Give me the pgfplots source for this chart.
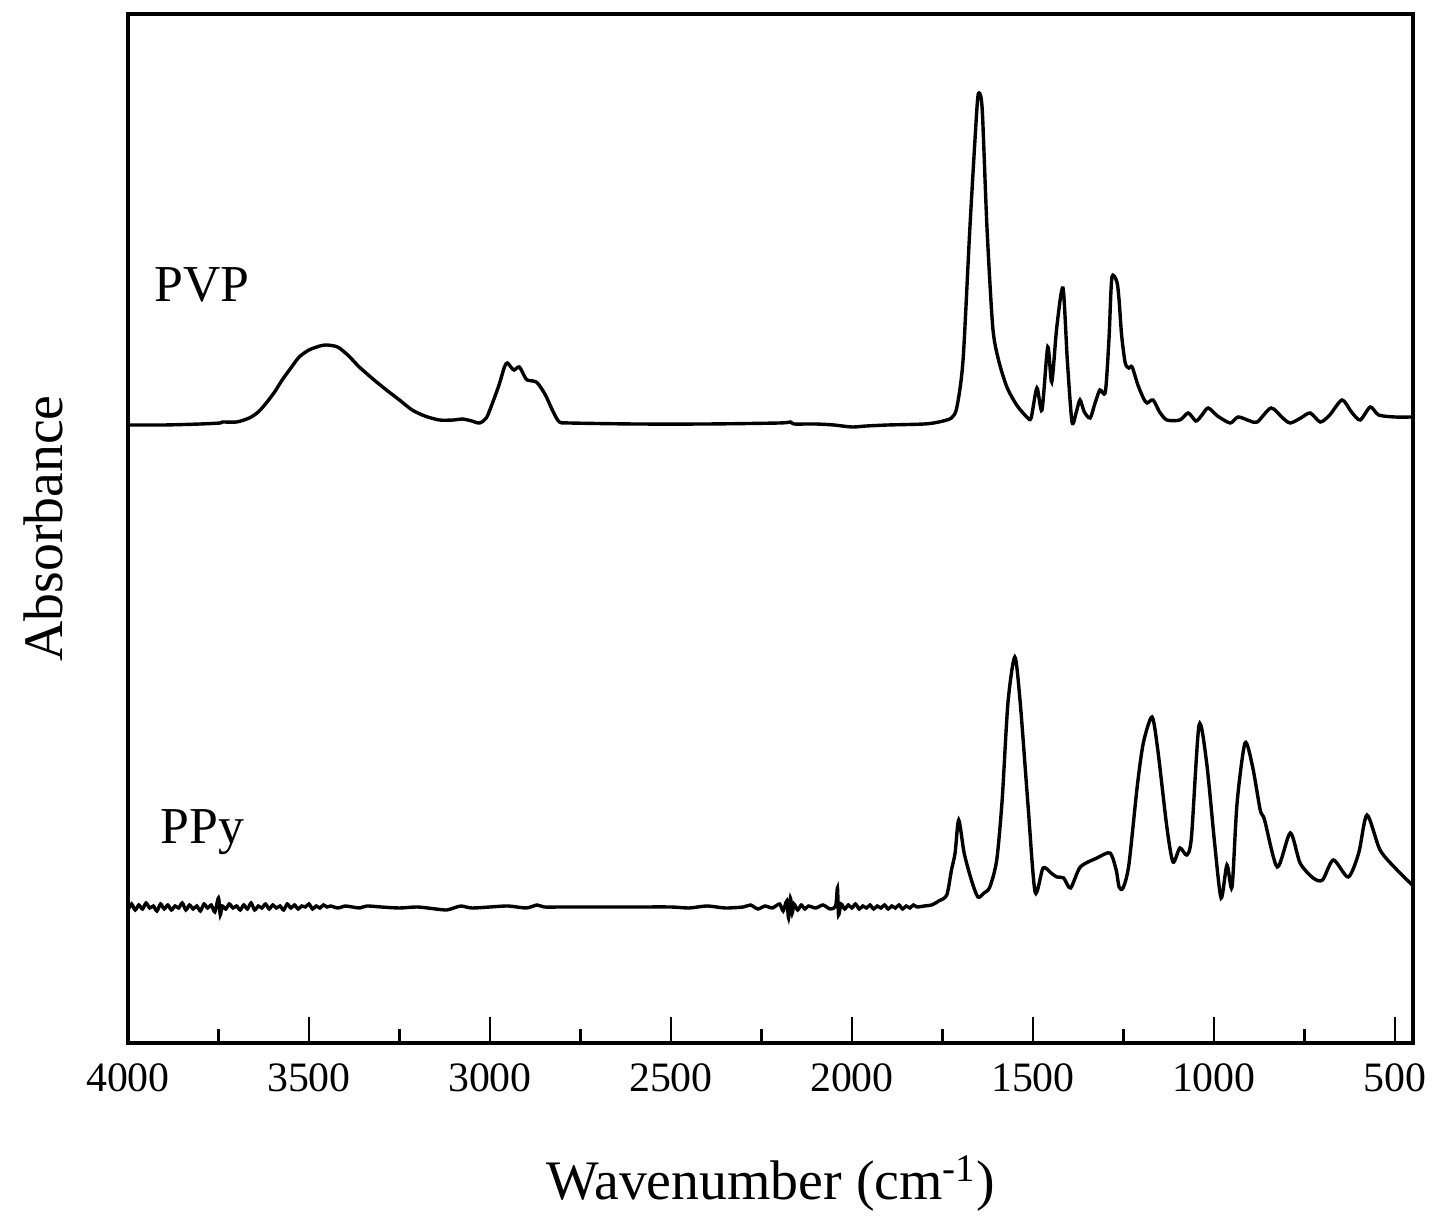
\documentclass[border=0pt]{standalone}
\usepackage{pgfplots}
\pgfplotsset{compat=1.18}
\usepackage{fontspec}
\setmainfont{Liberation Serif}
\begin{document}
\begin{tikzpicture}
\begin{axis}[
  scale only axis,
  width=642.5bp, height=514.5bp,
  x dir=reverse,
  xmin=450, xmax=4000, ymin=0, ymax=1029,
  axis line style={line width=1.8bp},
  xtick={500,1000,1500,2000,2500,3000,3500,4000},
  minor xtick={750,1250,1750,2250,2750,3250,3750},
  ytick=\empty,
  xtick pos=bottom,
  tick align=inside,
  major tick length=13bp, minor tick length=7bp,
  every tick/.style={black, line width=1.4bp},
  /pgf/number format/assume math mode=true,
  /pgf/number format/1000 sep={},
  xticklabel style={font=\fontsize{21}{25}\selectfont, yshift=-7bp},
  xlabel={Wavenumber (cm\textsuperscript{-1})},
  ylabel={Absorbance},
  xlabel style={font=\fontsize{28}{32}\selectfont, yshift=-25bp},
  ylabel style={font=\fontsize{28}{32}\selectfont, yshift=29bp},
  clip=true,
]
\addplot[black, line width=1.7bp, smooth, tension=0.45] coordinates {
(4000,618) (3900,618) (3800,619) (3745,620) (3740,621) (3700,621) (3665,625) (3640,631)
(3618,640) (3595,651) (3574,663) (3550,675) (3527,686) (3500,693) (3470,697) (3452,698)
(3430,697) (3416,695) (3390,687) (3361,676) (3320,663) (3286,653) (3250,643) (3215,633)
(3180,627) (3140,623) (3100,623) (3076,624) (3050,622) (3029,620) (3010,625) (2993,640)
(2975,658) (2960,676) (2952,680) (2940,675) (2933,673) (2919,676) (2905,667) (2897,663)
(2872,661) (2855,653) (2844,646) (2825,631) (2808,621) (2780,620) (2600,619) (2400,619)
(2200,620) (2170,621) (2160,619) (2100,619) (2050,618) (2000,616) (1960,617) (1900,618)
(1800,619) (1760,621) (1725,625) (1710,636) (1693,683) (1674,816) (1655,933) (1649,950)
(1640,933) (1627,816) (1611,716) (1595,683) (1572,656) (1545,638) (1517,626) (1505,625)
(1489,655) (1475,633) (1459,696) (1448,661) (1434,716) (1417,755) (1405,683) (1392,621)
(1380,631) (1370,643) (1358,631) (1342,625) (1330,638) (1315,653) (1300,651) (1290,703)
(1282,765) (1268,761) (1262,743) (1255,708) (1245,680) (1235,675) (1226,676) (1210,658)
(1195,645) (1185,640) (1168,643) (1150,631) (1130,623) (1094,623) (1071,630) (1050,622)
(1035,627) (1016,635) (990,627) (955,620) (933,626) (900,622) (880,621) (842,635)
(810,625) (789,620) (760,625) (734,630) (706,621) (680,628) (646,643) (620,631)
(596,623) (568,636) (545,628) (500,626) (450,626)
};
\addplot[black, line width=1.7bp, smooth, tension=0.45] coordinates {
(4000,168) (3999,136) (3990,139) (3980,133) (3970,138) (3960,134) (3950,140) (3940,135)
(3930,137) (3920,132) (3910,139) (3900,134) (3890,138) (3880,133) (3870,137) (3860,135)
(3850,140) (3840,133) (3830,138) (3820,134) (3810,137) (3800,132) (3790,139) (3780,135)
(3770,138) (3760,131) (3750,145) (3745,128) (3740,137) (3730,134) (3720,139) (3710,135)
(3700,137) (3690,133) (3680,138) (3670,134) (3660,140) (3650,133) (3640,137) (3630,135)
(3620,139) (3610,134) (3600,138) (3590,135) (3580,137) (3570,133) (3560,139) (3550,135)
(3540,138) (3530,134) (3520,137) (3510,136) (3500,139) (3490,134) (3480,137) (3470,135)
(3460,138) (3450,136) (3440,137) (3420,135) (3400,137) (3380,136) (3360,135) (3340,137)
(3300,136) (3250,135) (3200,136) (3150,134) (3120,133) (3100,135) (3080,137) (3050,135)
(3000,136) (2950,137) (2900,135) (2870,138) (2850,136) (2800,136) (2700,136) (2600,136)
(2500,136) (2450,135) (2400,137) (2350,135) (2300,136) (2280,138) (2260,134) (2240,137)
(2220,135) (2200,139) (2190,132) (2180,142) (2175,125) (2170,145) (2165,130) (2160,139)
(2150,133) (2140,138) (2130,134) (2120,137) (2100,135) (2080,138) (2060,134) (2045,137)
(2040,155) (2037,128) (2030,139) (2020,134) (2010,138) (2000,135) (1990,139) (1980,134)
(1970,137) (1960,135) (1950,138) (1940,134) (1930,137) (1920,135) (1910,138) (1900,134)
(1890,137) (1880,135) (1870,138) (1860,134) (1850,137) (1840,135) (1830,138) (1820,136)
(1800,137) (1780,138) (1760,142) (1738,148) (1725,173) (1715,190) (1705,223) (1690,190)
(1670,163) (1652,146) (1635,150) (1619,156) (1600,183) (1585,243) (1569,340) (1550,386)
(1535,340) (1514,240) (1494,151) (1472,175) (1450,170) (1434,166) (1415,165) (1396,155)
(1369,176) (1323,185) (1287,190) (1270,173) (1262,156) (1251,155) (1235,178) (1212,256)
(1195,300) (1171,326) (1155,293) (1130,216) (1113,181) (1094,195) (1075,188) (1062,206)
(1041,318) (1020,280) (997,196) (980,145) (964,178) (950,156) (936,240) (914,300)
(893,276) (872,233) (860,223) (825,176) (789,210) (762,180) (726,165) (700,163)
(670,183) (629,166) (600,190) (577,228) (541,193) (494,173) (452,158)
};
\node[font=\fontsize{26}{30}\selectfont] at (axis cs:3795,758) {PVP};
\node[font=\fontsize{26}{30}\selectfont] at (axis cs:3795,211) {PPy};
\end{axis}
\path (current axis.south west) ++(-64bp,-84.5bp);
\path (current axis.north east) ++(11bp,7bp);
\end{tikzpicture}
\end{document}
